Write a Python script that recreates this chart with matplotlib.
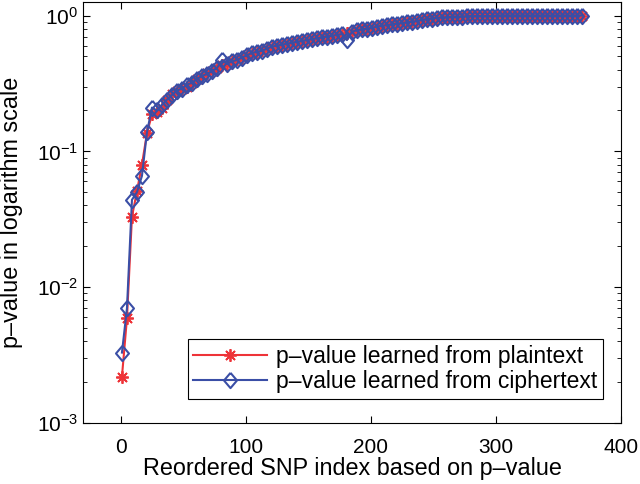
import numpy as np
import matplotlib.pyplot as plt

plt.rcParams['font.family'] = ['Liberation Sans', 'DejaVu Sans']

# SNP index (every 4th SNP drawn)
snp_index = np.arange(1, 372, 4)

p_plain = [0.0022, 0.0059, 0.033, 0.051, 0.080, 0.136, 0.187, 0.195, 0.21, 0.24,
           0.265, 0.28, 0.29, 0.30, 0.32, 0.34, 0.36, 0.38, 0.39, 0.41,
           0.43, 0.44, 0.46, 0.48, 0.49, 0.51, 0.52, 0.54, 0.56, 0.57,
           0.59, 0.60, 0.61, 0.62, 0.63, 0.64, 0.65, 0.66, 0.67, 0.68,
           0.69, 0.70, 0.71, 0.72, 0.72, 0.74, 0.76, 0.78, 0.79, 0.80,
           0.81, 0.83, 0.84, 0.85, 0.86, 0.87, 0.88, 0.89, 0.90, 0.91,
           0.93, 0.94, 0.95, 0.96, 0.97, 0.97, 0.98, 0.98, 0.98, 0.99,
           0.99, 0.99, 0.99, 0.99, 0.99, 1.0, 1.0, 1.0, 1.0, 1.0,
           1.0, 1.0, 1.0, 1.0, 1.0, 1.0, 1.0, 1.0, 1.0, 1.0,
           1.0, 1.0, 1.0]

p_cipher = [0.0033, 0.0070, 0.044, 0.050, 0.066, 0.138, 0.21, 0.20, 0.22, 0.24,
            0.26, 0.28, 0.29, 0.31, 0.32, 0.34, 0.36, 0.37, 0.39, 0.41,
            0.47, 0.44, 0.46, 0.47, 0.49, 0.51, 0.53, 0.54, 0.55, 0.57,
            0.59, 0.60, 0.61, 0.62, 0.63, 0.64, 0.65, 0.66, 0.67, 0.68,
            0.69, 0.70, 0.71, 0.72, 0.73, 0.66, 0.76, 0.78, 0.79, 0.80,
            0.81, 0.83, 0.84, 0.85, 0.86, 0.87, 0.88, 0.89, 0.90, 0.91,
            0.93, 0.94, 0.95, 0.96, 0.97, 0.97, 0.98, 0.98, 0.98, 0.99,
            0.99, 0.99, 0.99, 0.99, 0.99, 1.0, 1.0, 1.0, 1.0, 1.0,
            1.0, 1.0, 1.0, 1.0, 1.0, 1.0, 1.0, 1.0, 1.0, 1.0,
            1.0, 1.0, 1.0]

red = '#ee3338'
blue = '#3a4ea6'

# MATLAB-like diamond, a bit taller than wide
diamond = [(0, 1), (0.85, 0), (0, -1), (-0.85, 0), (0, 1)]

fig = plt.figure(figsize=(6.4, 4.84), dpi=100)
ax = fig.add_axes([0.130, 0.126, 0.840, 0.870])

ax.semilogy(snp_index, p_plain, color=red, marker=(8, 2, 0), markersize=9,
            markeredgewidth=1.3, linewidth=1.5,
            label='p\u2013value learned from plaintext')
ax.semilogy(snp_index, p_cipher, color=blue, marker=diamond, markersize=11,
            markerfacecolor='none', markeredgewidth=1.5, linewidth=1.5,
            label='p\u2013value learned from ciphertext')

ax.set_xlim(-30, 400)
ax.set_ylim(1e-3, 10 ** 0.1)
ax.set_xticks([0, 100, 200, 300, 400])
ax.set_yticks([1e-3, 1e-2, 1e-1, 1e0])
ax.tick_params(which='both', direction='in', top=True, right=True, labelsize=15)
ax.tick_params(which='major', length=5)
ax.tick_params(which='minor', length=3)
ax.tick_params(axis='x', pad=11)

ax.set_xlabel('Reordered SNP index based on p\u2013value', fontsize=16.8, labelpad=0)
ax.set_ylabel('p\u2013value in logarithm scale', fontsize=16.8, labelpad=10)

leg = ax.legend(loc='lower right', bbox_to_anchor=(0.988, 0.03), fontsize=16.5,
                handlelength=3.2, borderpad=0.25, labelspacing=0.1,
                handletextpad=0.4, fancybox=False, framealpha=1)
leg.get_frame().set_edgecolor('black')
leg.get_frame().set_linewidth(0.8)

fig.savefig('out.png', dpi=100)
